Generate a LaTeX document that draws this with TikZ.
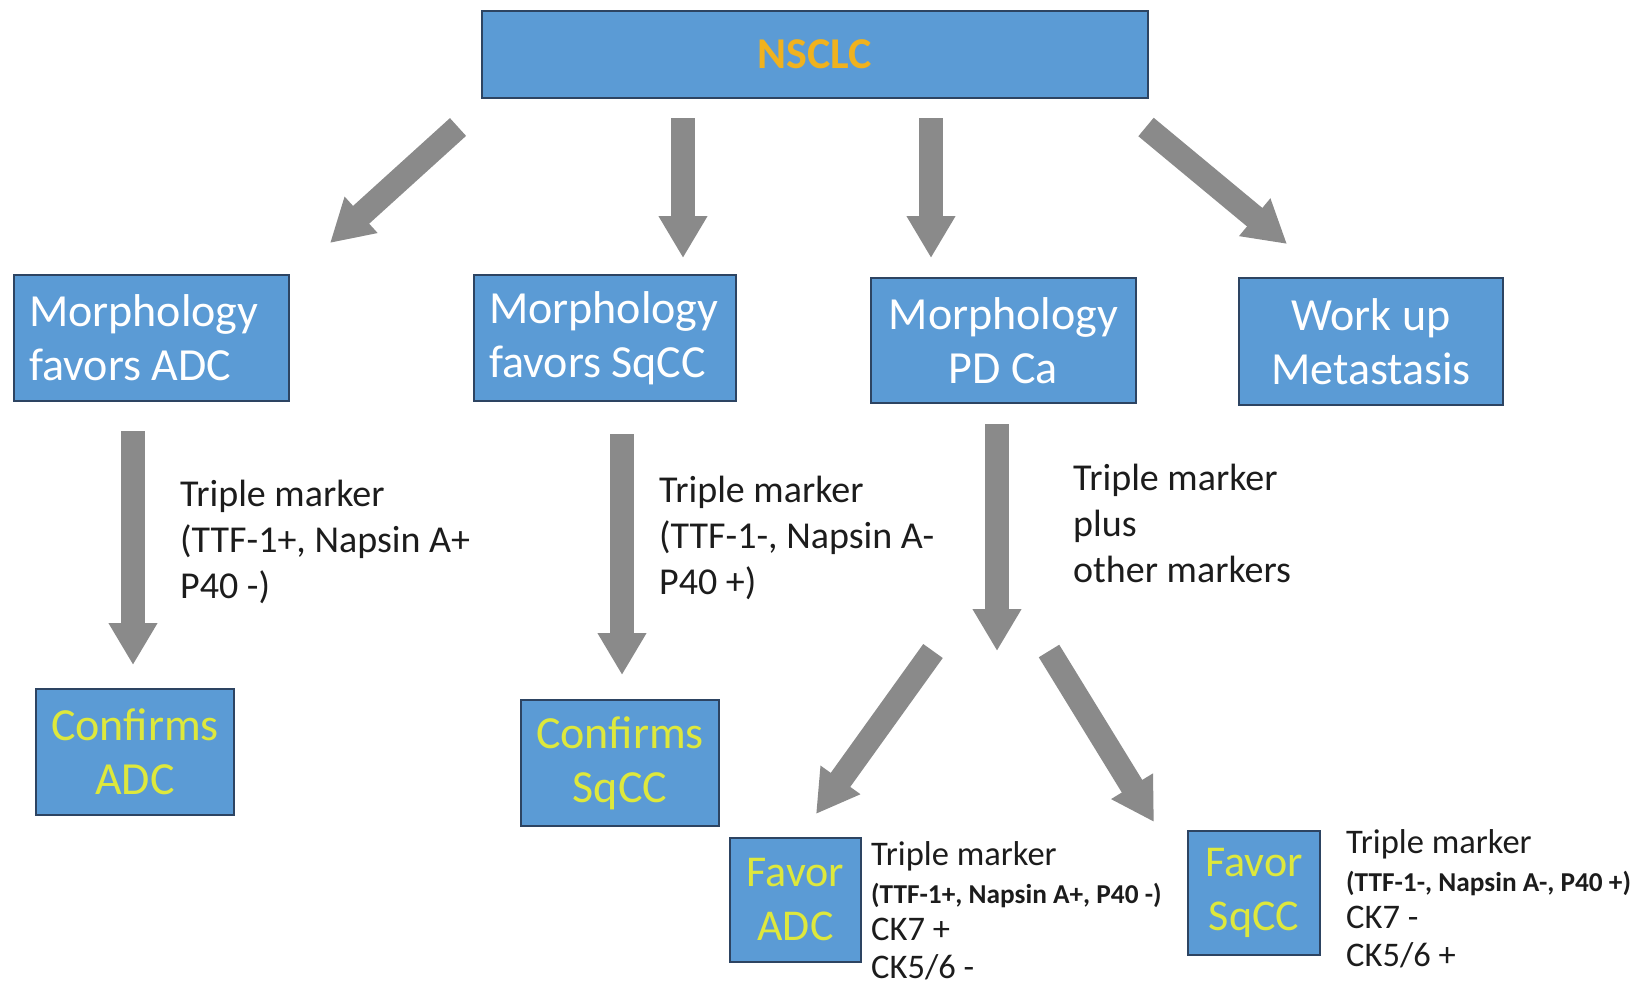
\documentclass[tikz,border=0pt]{standalone}
\usepackage{fontspec}
\setmainfont{Carlito}
\usetikzlibrary{arrows.meta}
\definecolor{boxblue}{RGB}{91,155,213}
\definecolor{boxedge}{RGB}{45,68,98}
\definecolor{arrowgray}{RGB}{138,138,138}
\definecolor{goldtxt}{RGB}{240,178,30}
\definecolor{limetxt}{RGB}{222,232,60}
\definecolor{labeltext}{RGB}{28,28,28}
\begin{document}
\begin{tikzpicture}[x=1pt,y=-1pt,
  box/.style={draw=boxedge, fill=boxblue, line width=2.5pt, inner sep=0pt,
    text=white, font=\fontsize{46}{54}\selectfont},
  leftbox/.style={box, align=flush left, inner xsep=15pt},
  topbox/.style={box, text=goldtxt, font=\bfseries\fontsize{44}{52}\selectfont},
  resbox/.style={box, text=limetxt},
  blockarrow/.style={draw=arrowgray, line width=24pt, line cap=butt,
    -{Triangle[width=46pt,length=42pt]}},
  lbl/.style={anchor=base west, align=left, inner sep=0pt, text=labeltext,
    font=\fontsize{38}{46}\selectfont},
  smalllbl/.style={anchor=base west, align=left, inner sep=0pt, text=labeltext,
    font=\fontsize{34.5}{37.5}\selectfont}
]
\useasboundingbox (0,0) rectangle (1641,986);

% boxes
\node[topbox, minimum width=666pt, minimum height=87pt] (nsclc) at (815,54.5) {NSCLC};
\node[leftbox, text width=245pt, minimum height=126pt] (madc) at (151.5,338) {Morphology\\favors ADC};
\node[leftbox, text width=232pt, minimum height=126pt] (msqcc) at (605,338) {Morphology\\favors SqCC};
\node[box, minimum width=265pt, minimum height=125pt, align=center] (mpd) at (1003.5,340.5) {Morphology\\PD Ca};
\node[box, minimum width=264pt, minimum height=127pt, align=center] (wmet) at (1371,341.5) {Work up\\Metastasis};
\node[resbox, minimum width=198pt, minimum height=126pt, align=center] (cadc) at (135,752) {Confirms\\ADC};
\node[resbox, minimum width=198pt, minimum height=126pt, align=center] (csqcc) at (620,763) {Confirms\\SqCC};
\node[resbox, minimum width=131pt, minimum height=124pt, align=center, font=\fontsize{44}{54}\selectfont] (fadc) at (795.5,900) {Favor\\ADC};
\node[resbox, minimum width=132pt, minimum height=124pt, align=center, font=\fontsize{44}{54}\selectfont] (fsqcc) at (1254,893) {Favor\\SqCC};

% arrow end points
\coordinate (a1s) at (458,127); \coordinate (a1e) at (330,243);
\coordinate (a2s) at (683,118); \coordinate (a2e) at (683,258);
\coordinate (a3s) at (931,118); \coordinate (a3e) at (931,258);
\coordinate (a4s) at (1146,127); \coordinate (a4e) at (1287,244);
\coordinate (a5s) at (133,431); \coordinate (a5e) at (133,665);
\coordinate (a6s) at (622,434); \coordinate (a6e) at (622,675);
\coordinate (a7s) at (997,424); \coordinate (a7e) at (997,651);
\coordinate (a8s) at (933,651); \coordinate (a8e) at (816,814);
\coordinate (a9s) at (1049,651); \coordinate (a9e) at (1154,822);

\draw[blockarrow] (a1s) -- (a1e);
\draw[blockarrow] (a2s) -- (a2e);
\draw[blockarrow] (a3s) -- (a3e);
\draw[blockarrow] (a4s) -- (a4e);
\draw[blockarrow] (a5s) -- (a5e);
\draw[blockarrow] (a6s) -- (a6e);
\draw[blockarrow] (a7s) -- (a7e);
\draw[blockarrow] (a8s) -- (a8e);
\draw[blockarrow] (a9s) -- (a9e);

% labels (base anchor = baseline of the last line)
\node[lbl] (l1) at (180,598) {Triple marker\\(TTF-1+, Napsin A+\\P40 -)};
\node[lbl] (l2) at (659,594) {Triple marker\\(TTF-1-, Napsin A-\\P40 +)};
\node[lbl] (l3) at (1073,582) {Triple marker\\plus\\other markers};
\node[smalllbl] (l4) at (871,978) {Triple marker\\{\bfseries\fontsize{27.3}{37.5}\selectfont (TTF-1+, Napsin A+, P40 -)}\\CK7 +\\CK5/6 -};
\node[smalllbl] (l5) at (1346,966) {Triple marker\\{\bfseries\fontsize{27.3}{37.5}\selectfont (TTF-1-, Napsin A-, P40 +)}\\CK7 -\\CK5/6 +};
\end{tikzpicture}
\end{document}
